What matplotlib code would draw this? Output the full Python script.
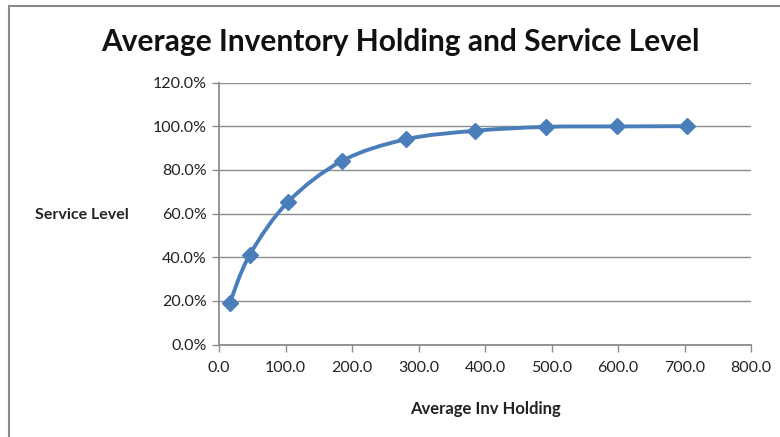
import numpy as np
import matplotlib
matplotlib.use("Agg")
import matplotlib.pyplot as plt
from matplotlib.path import Path
from matplotlib.patches import PathPatch, Rectangle
from matplotlib.ticker import MultipleLocator, FuncFormatter

plt.rcParams['font.family'] = ['Lato', 'DejaVu Sans']

# data
avg_inv_holding = [16, 46, 104, 185, 281, 385, 492, 598, 704]
service_level = [18.9, 41.0, 65.4, 84.1, 94.0, 97.9, 99.7, 99.9, 100.0]

title = "Average Inventory Holding and Service Level"
x_label = "Average Inv Holding"
y_label = "Service Level"

line_color = "#4A7EBB"
grid_color = "#8C8C8C"


def smooth_path(xs, ys):
    """Excel-like smoothed line: cubic Bezier through every point."""
    pts = np.column_stack([xs, ys]).astype(float)
    ext = np.vstack([pts[0], pts, pts[-1]])
    verts = [pts[0]]
    codes = [Path.MOVETO]
    for i in range(len(pts) - 1):
        p0, p1, p2, p3 = ext[i], ext[i + 1], ext[i + 2], ext[i + 3]
        c1 = p1 + (p2 - p0) / 6.0
        c2 = p2 - (p3 - p1) / 6.0
        verts += [c1, c2, p2]
        codes += [Path.CURVE4] * 3
    return Path(verts, codes)


fig = plt.figure(figsize=(7.8, 4.37), dpi=100)
ax = fig.add_axes([219 / 780, 1 - 344.7 / 437, (751 - 219) / 780, (344.7 - 82.5) / 437])

# outer chart frame (clipped at right/bottom like the screenshot)
fig.patches.append(Rectangle((8.5 / 780, -0.1), 1.2, 1 - 6.5 / 437 + 0.1,
                             transform=fig.transFigure, fill=False,
                             edgecolor="#8A8A8A", linewidth=1.5))

ax.add_patch(PathPatch(smooth_path(avg_inv_holding, service_level), fill=False,
                       edgecolor=line_color, linewidth=2.8, zorder=3,
                       capstyle='round', joinstyle='round'))
ax.plot(avg_inv_holding, service_level, linestyle='none', marker='D',
        markersize=8, color=line_color, zorder=4)

ax.set_xlim(0, 800)
ax.set_ylim(0, 120)
ax.xaxis.set_major_locator(MultipleLocator(100))
ax.yaxis.set_major_locator(MultipleLocator(20))
ax.xaxis.set_major_formatter(FuncFormatter(lambda v, p: f"{v:.1f}"))
ax.yaxis.set_major_formatter(FuncFormatter(lambda v, p: f"{v:.1f}%"))

ax.grid(axis='y', color=grid_color, linewidth=1.0)
ax.set_axisbelow(True)
for s in ['top', 'right']:
    ax.spines[s].set_visible(False)
for s in ['left', 'bottom']:
    ax.spines[s].set_color(grid_color)
    ax.spines[s].set_linewidth(1.3)

ax.tick_params(axis='both', direction='out', length=5, width=1.0,
               color=grid_color, labelsize=11.5, labelcolor="#222222")
ax.tick_params(axis='y', pad=4)
ax.tick_params(axis='x', pad=7)

fig.text(400 / 780, 1 - 42 / 437, title, ha='center', va='center',
         fontsize=21.5, fontweight='bold', color="#111111")
fig.text(82 / 780, 1 - 215 / 437, y_label, ha='center', va='center',
         fontsize=11.5, fontweight='bold', color="#222222")
fig.text(485 / 780, 1 - 409 / 437, x_label, ha='center', va='center',
         fontsize=12, fontweight='bold', color="#222222")

fig.savefig("out.png", dpi=100)
